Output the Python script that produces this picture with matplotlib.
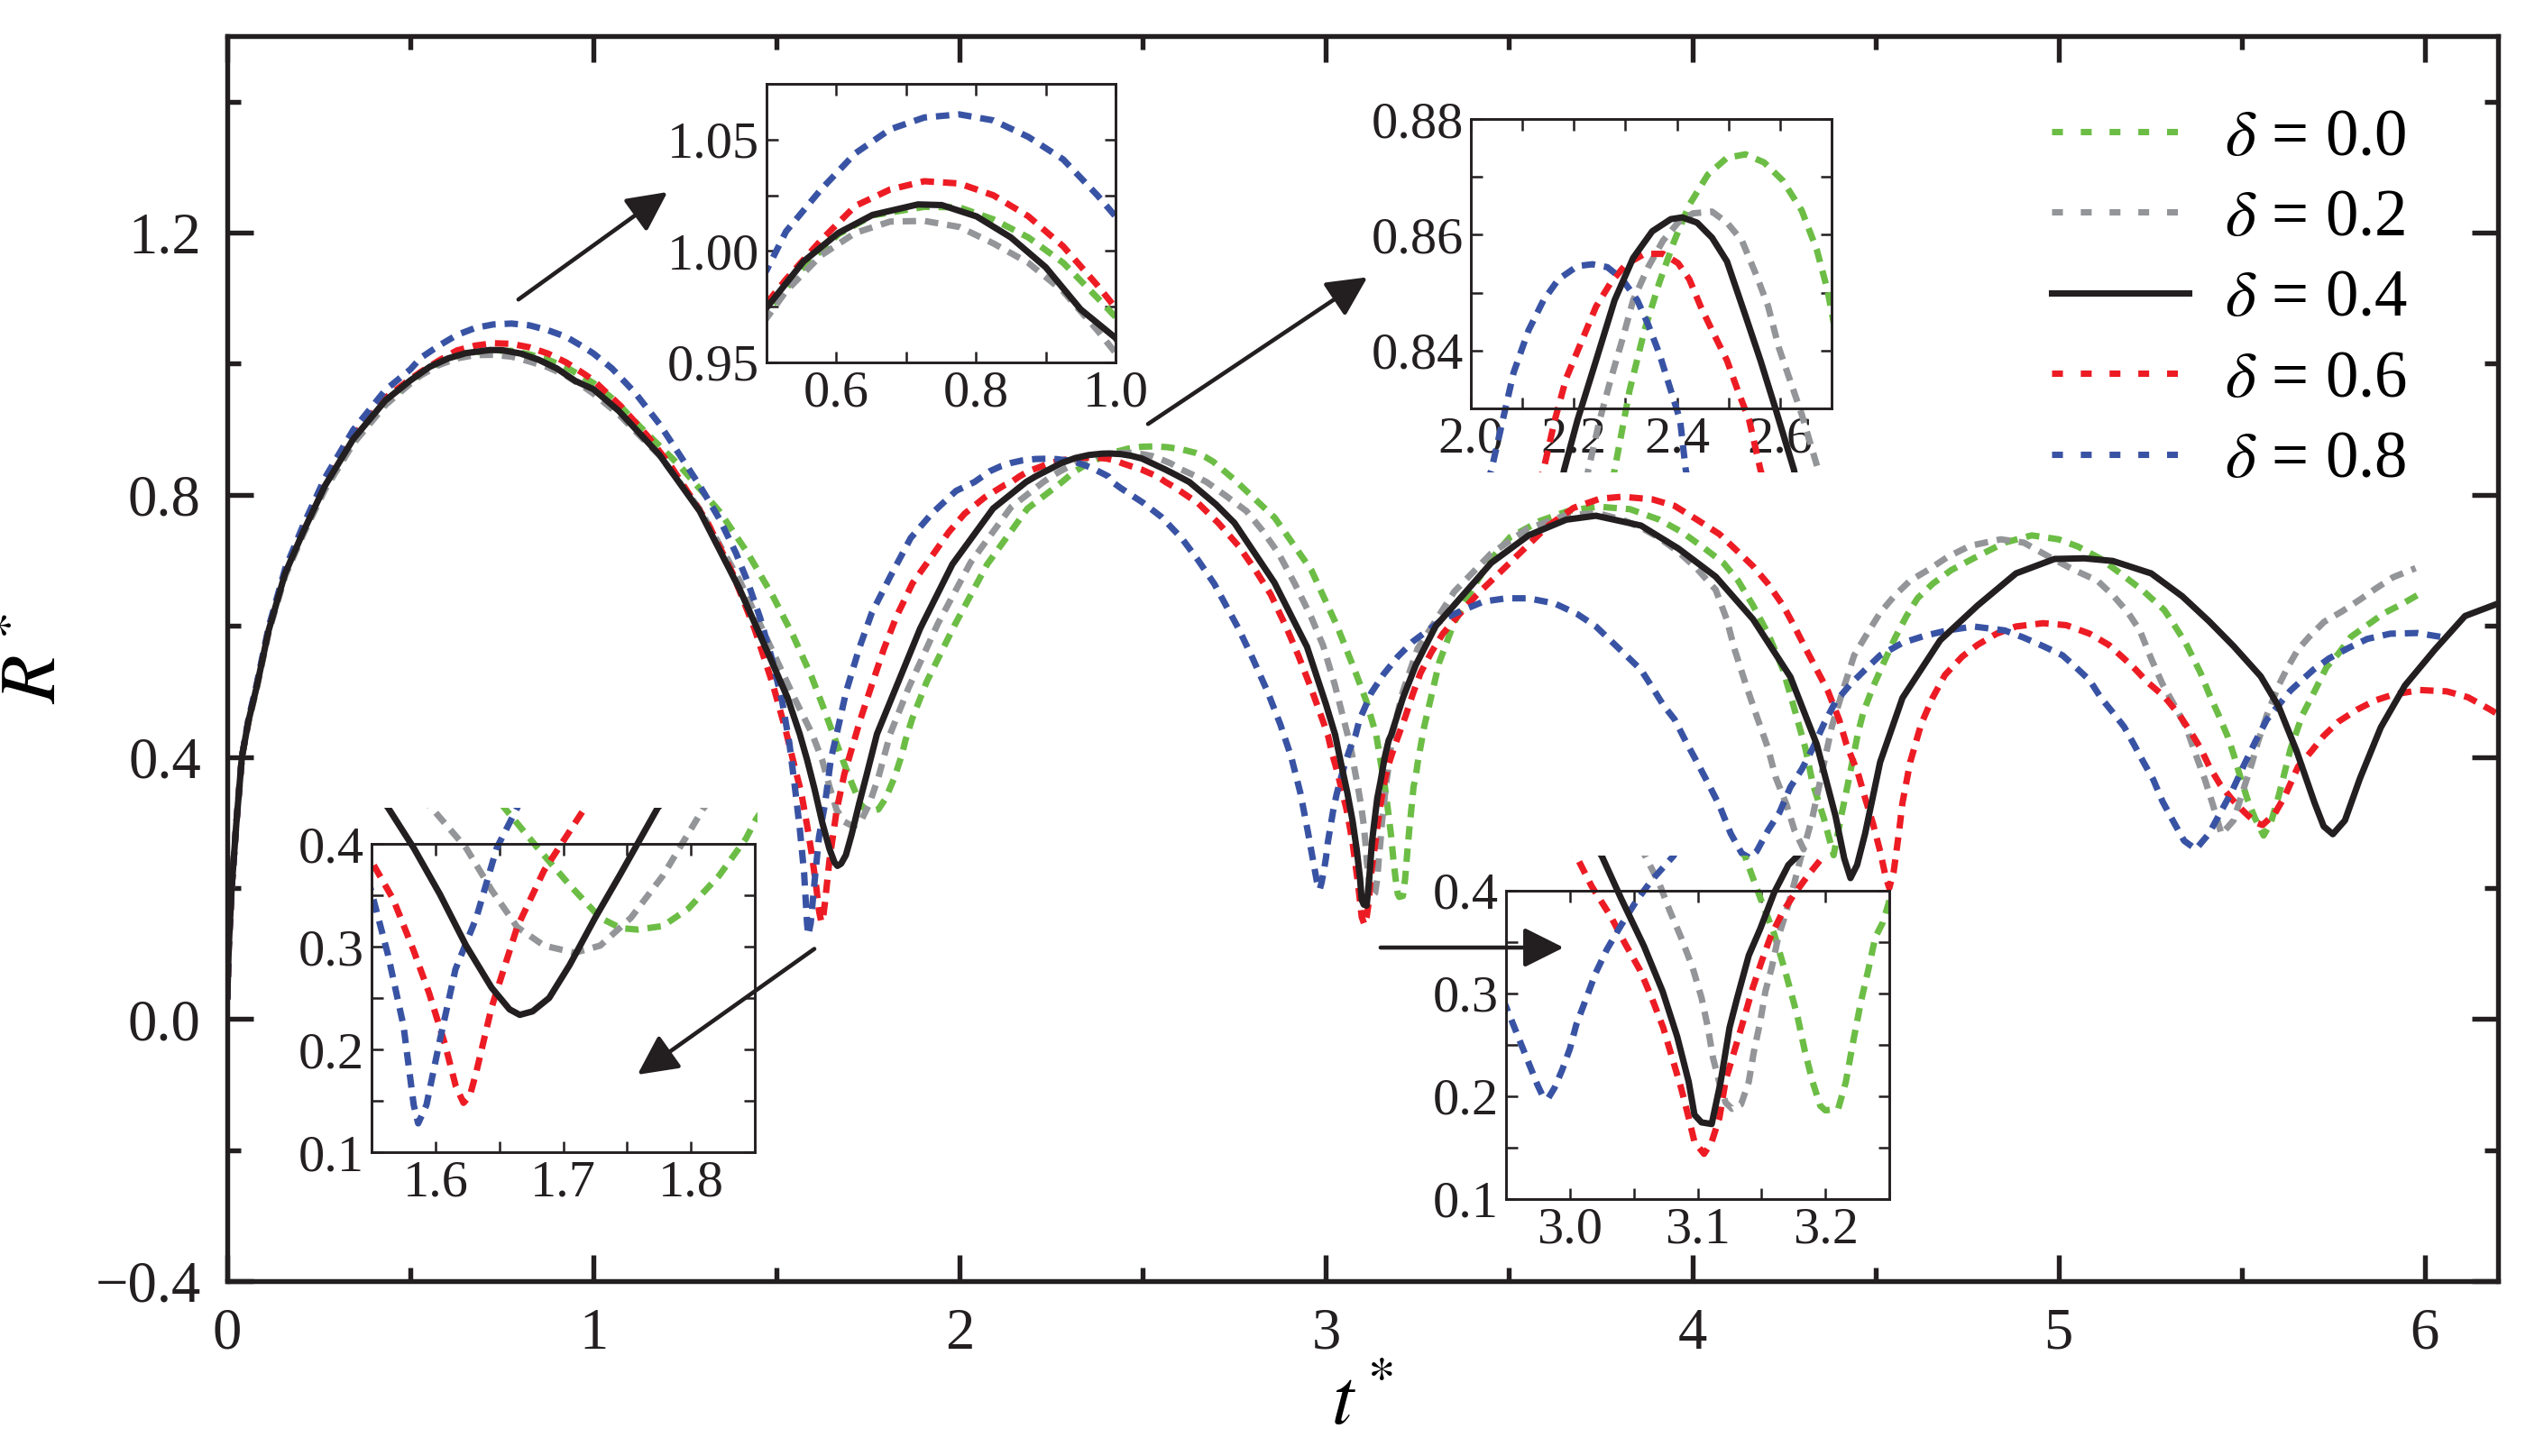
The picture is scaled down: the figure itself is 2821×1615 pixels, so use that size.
import numpy as np
import matplotlib
matplotlib.use('Agg')
import matplotlib.pyplot as plt
from matplotlib.lines import Line2D
from matplotlib.patches import Rectangle, FancyArrowPatch

plt.rcParams['font.family'] = 'serif'
plt.rcParams['font.serif'] = ['Liberation Serif', 'DejaVu Serif']
plt.rcParams['mathtext.fontset'] = 'stix'

# R*(t*), (t, R) pairs
delta_00 = [(0, 0.03), (0.004, 0.11), (0.012, 0.20), (0.025, 0.30), (0.04, 0.40), (0.058, 0.454), (0.08, 0.505),
            (0.113, 0.592), (0.158, 0.678), (0.207, 0.741), (0.267, 0.811), (0.344, 0.882), (0.432, 0.941),
            (0.5, 0.9725), (0.553, 0.9927), (0.603, 1.0075), (0.652, 1.016), (0.726, 1.0198), (0.776, 1.0196),
            (0.825, 1.0142), (0.875, 1.0061), (0.925, 0.9947), (0.974, 0.979), (1.0, 0.9704), (1.06, 0.943),
            (1.125, 0.905), (1.234, 0.845), (1.345, 0.774), (1.421, 0.711), (1.49, 0.645), (1.545, 0.585),
            (1.595, 0.523), (1.63, 0.472), (1.654, 0.435), (1.68, 0.396), (1.705, 0.360), (1.729, 0.328),
            (1.745, 0.318), (1.758, 0.3166), (1.778, 0.320), (1.798, 0.337), (1.822, 0.369), (1.843, 0.405),
            (1.851, 0.424), (1.87, 0.458), (1.91, 0.515), (1.985, 0.600), (2.075, 0.694), (2.185, 0.779),
            (2.25, 0.807), (2.279, 0.8194), (2.308, 0.8331), (2.337, 0.8435), (2.366, 0.8518), (2.395, 0.859),
            (2.424, 0.8652), (2.46, 0.8704), (2.497, 0.8733), (2.533, 0.8739), (2.569, 0.8725), (2.605, 0.8694),
            (2.642, 0.8642), (2.671, 0.8575), (2.692, 0.8505), (2.75, 0.823), (2.86, 0.765), (2.96, 0.685),
            (3.03, 0.600), (3.08, 0.53), (3.11, 0.485), (3.137, 0.4337), (3.149, 0.393), (3.16, 0.3576),
            (3.169, 0.3195), (3.178, 0.2785), (3.184, 0.2434), (3.19, 0.214), (3.196, 0.1907), (3.2, 0.1863),
            (3.21, 0.1878), (3.216, 0.214), (3.222, 0.255), (3.228, 0.2932), (3.234, 0.3254), (3.239, 0.3546),
            (3.245, 0.3693), (3.25, 0.39), (3.268, 0.446), (3.309, 0.544), (3.349, 0.604), (3.401, 0.658),
            (3.451, 0.702), (3.502, 0.735), (3.584, 0.760), (3.66, 0.775), (3.74, 0.782), (3.83, 0.778),
            (3.91, 0.762), (3.972, 0.743), (4.034, 0.718), (4.085, 0.696), (4.125, 0.669), (4.166, 0.631),
            (4.207, 0.588), (4.248, 0.533), (4.279, 0.473), (4.309, 0.413), (4.329, 0.359), (4.36, 0.305),
            (4.386, 0.25), (4.405, 0.305), (4.421, 0.348), (4.437, 0.392), (4.452, 0.435), (4.467, 0.468),
            (4.493, 0.506), (4.523, 0.544), (4.554, 0.582), (4.585, 0.615), (4.615, 0.642), (4.656, 0.664),
            (4.707, 0.685), (4.768, 0.703), (4.853, 0.727), (4.927, 0.738), (5.0, 0.732), (5.053, 0.721),
            (5.116, 0.702), (5.169, 0.680), (5.232, 0.653), (5.289, 0.624), (5.314, 0.603), (5.347, 0.574),
            (5.388, 0.528), (5.412, 0.495), (5.437, 0.464), (5.462, 0.431), (5.478, 0.404), (5.495, 0.372),
            (5.516, 0.335), (5.536, 0.307), (5.560, 0.280), (5.58, 0.30), (5.601, 0.340), (5.634, 0.413),
            (5.666, 0.464), (5.699, 0.500), (5.732, 0.537), (5.765, 0.558), (5.798, 0.583), (5.848, 0.603),
            (5.888, 0.619), (5.937, 0.633), (5.99, 0.650)]

delta_02 = [(0, 0.03), (0.004, 0.11), (0.012, 0.20), (0.025, 0.30), (0.04, 0.40), (0.058, 0.453), (0.08, 0.504),
            (0.113, 0.590), (0.158, 0.676), (0.207, 0.739), (0.267, 0.808), (0.344, 0.878), (0.432, 0.937),
            (0.5, 0.9698), (0.528, 0.982), (0.578, 0.998), (0.627, 1.0081), (0.677, 1.0132), (0.726, 1.0135),
            (0.776, 1.0108), (0.825, 1.0034), (0.875, 0.9947), (0.925, 0.9819), (0.974, 0.9644), (1.0, 0.9543),
            (1.07, 0.922), (1.18, 0.860), (1.29, 0.778), (1.40, 0.668), (1.49, 0.560), (1.55, 0.488),
            (1.597, 0.435), (1.624, 0.396), (1.644, 0.355), (1.664, 0.319), (1.685, 0.301), (1.709, 0.294),
            (1.729, 0.301), (1.753, 0.328), (1.778, 0.369), (1.81, 0.435), (1.86, 0.505), (1.94, 0.603),
            (2.03, 0.697), (2.14, 0.781), (2.228, 0.8194), (2.25, 0.828), (2.272, 0.8352), (2.294, 0.8419),
            (2.315, 0.8487), (2.344, 0.8544), (2.373, 0.859), (2.402, 0.8621), (2.431, 0.8637), (2.468, 0.864),
            (2.497, 0.8621), (2.526, 0.859), (2.555, 0.8528), (2.577, 0.8476), (2.598, 0.8404), (2.62, 0.8347),
            (2.642, 0.829), (2.656, 0.8248), (2.674, 0.8194), (2.73, 0.797), (2.783, 0.775), (2.827, 0.745),
            (2.871, 0.710), (2.915, 0.664), (2.959, 0.614), (2.992, 0.570), (3.024, 0.510), (3.046, 0.462),
            (3.059, 0.4337), (3.07, 0.407), (3.078, 0.381), (3.087, 0.3546), (3.096, 0.3254), (3.103, 0.296),
            (3.108, 0.267), (3.112, 0.2375), (3.118, 0.2083), (3.122, 0.1937), (3.127, 0.1878), (3.134, 0.1922),
            (3.14, 0.214), (3.144, 0.2434), (3.149, 0.2727), (3.153, 0.302), (3.158, 0.3254), (3.163, 0.3546),
            (3.169, 0.378), (3.175, 0.4044), (3.181, 0.4337), (3.21, 0.50), (3.25, 0.565), (3.35, 0.652),
            (3.45, 0.71), (3.55, 0.748), (3.65, 0.768), (3.74, 0.772), (3.809, 0.762), (3.86, 0.750),
            (3.91, 0.734), (3.962, 0.713), (4.013, 0.687), (4.064, 0.655), (4.094, 0.61), (4.115, 0.565),
            (4.146, 0.511), (4.176, 0.462), (4.207, 0.413), (4.227, 0.370), (4.258, 0.326), (4.279, 0.288),
            (4.304, 0.259), (4.329, 0.310), (4.35, 0.365), (4.381, 0.446), (4.411, 0.501), (4.442, 0.555),
            (4.483, 0.593), (4.513, 0.620), (4.554, 0.647), (4.595, 0.669), (4.646, 0.686), (4.697, 0.705),
            (4.758, 0.722), (4.842, 0.732), (4.905, 0.727), (4.969, 0.707), (5.043, 0.685), (5.106, 0.669),
            (5.148, 0.647), (5.19, 0.620), (5.222, 0.593), (5.253, 0.550), (5.284, 0.511), (5.316, 0.479),
            (5.348, 0.446), (5.375, 0.403), (5.40, 0.365), (5.422, 0.326), (5.445, 0.282), (5.478, 0.303),
            (5.507, 0.354), (5.528, 0.390), (5.544, 0.422), (5.569, 0.464), (5.601, 0.509), (5.626, 0.537),
            (5.654, 0.564), (5.684, 0.583), (5.725, 0.606), (5.774, 0.622), (5.823, 0.640), (5.864, 0.656),
            (5.913, 0.674), (5.975, 0.688)]

delta_04 = [(0, 0.03), (0.004, 0.11), (0.012, 0.20), (0.025, 0.30), (0.04, 0.40), (0.058, 0.455), (0.08, 0.506),
            (0.113, 0.593), (0.158, 0.680), (0.207, 0.743), (0.267, 0.814), (0.344, 0.885), (0.432, 0.944),
            (0.5, 0.9745), (0.553, 0.9953), (0.603, 1.0081), (0.652, 1.0162), (0.717, 1.0209), (0.751, 1.0206),
            (0.801, 1.0155), (0.85, 1.0061), (0.9, 0.9927), (0.95, 0.9738), (1.0, 0.961), (1.069, 0.928),
            (1.18, 0.861), (1.29, 0.775), (1.399, 0.656), (1.487, 0.545), (1.53, 0.49), (1.563, 0.435),
            (1.583, 0.396), (1.6035, 0.351), (1.624, 0.301), (1.644, 0.260), (1.658, 0.239), (1.666, 0.2336),
            (1.676, 0.237), (1.689, 0.250), (1.705, 0.282), (1.725, 0.328), (1.745, 0.371), (1.774, 0.435),
            (1.815, 0.491), (1.892, 0.596), (1.98, 0.694), (2.091, 0.779), (2.181, 0.8194), (2.207, 0.828),
            (2.243, 0.8383), (2.279, 0.8487), (2.315, 0.856), (2.352, 0.8606), (2.388, 0.8627), (2.41, 0.863),
            (2.439, 0.8621), (2.468, 0.8595), (2.497, 0.8554), (2.533, 0.846), (2.562, 0.8383), (2.591, 0.830),
            (2.627, 0.8194), (2.70, 0.785), (2.75, 0.757), (2.859, 0.666), (2.948, 0.568), (3.0, 0.48),
            (3.025, 0.4337), (3.04, 0.3927), (3.058, 0.346), (3.0726, 0.302), (3.084, 0.258), (3.093, 0.214),
            (3.0975, 0.182), (3.103, 0.1746), (3.111, 0.173), (3.118, 0.214), (3.125, 0.267), (3.131, 0.296),
            (3.14, 0.337), (3.149, 0.363), (3.16, 0.3985), (3.171, 0.425), (3.178, 0.4337), (3.21, 0.49),
            (3.245, 0.54), (3.30, 0.60), (3.349, 0.631), (3.451, 0.696), (3.553, 0.738), (3.656, 0.762),
            (3.737, 0.768), (3.86, 0.753), (3.962, 0.718), (4.064, 0.675), (4.166, 0.610), (4.268, 0.522),
            (4.34, 0.419), (4.391, 0.310), (4.415, 0.245), (4.432, 0.215), (4.45, 0.235), (4.472, 0.283),
            (4.513, 0.392), (4.574, 0.490), (4.677, 0.578), (4.779, 0.631), (4.884, 0.680), (4.989, 0.702),
            (5.07, 0.703), (5.148, 0.699), (5.253, 0.680), (5.338, 0.645), (5.411, 0.607), (5.478, 0.569),
            (5.552, 0.523), (5.601, 0.477), (5.65, 0.409), (5.699, 0.330), (5.724, 0.294), (5.749, 0.282),
            (5.782, 0.303), (5.823, 0.367), (5.88, 0.445), (5.946, 0.509), (6.028, 0.564), (6.11, 0.615),
            (6.2, 0.634)]

delta_06 = [(0, 0.03), (0.004, 0.11), (0.012, 0.20), (0.025, 0.30), (0.04, 0.40), (0.058, 0.456), (0.08, 0.508),
            (0.113, 0.595), (0.158, 0.683), (0.207, 0.747), (0.267, 0.818), (0.344, 0.89), (0.432, 0.948),
            (0.5, 0.9765), (0.528, 0.9873), (0.578, 1.0048), (0.627, 1.0202), (0.677, 1.0276), (0.726, 1.0313),
            (0.776, 1.0303), (0.825, 1.025), (0.875, 1.0156), (0.925, 1.0021), (0.974, 0.9846), (1.0, 0.9745),
            (1.075, 0.935), (1.147, 0.89), (1.21, 0.845), (1.311, 0.758), (1.38, 0.68), (1.44, 0.595),
            (1.49, 0.51), (1.525, 0.44), (1.55, 0.383), (1.567, 0.346), (1.583, 0.296), (1.595, 0.255),
            (1.6075, 0.205), (1.616, 0.164), (1.622, 0.148), (1.627, 0.155), (1.632, 0.178), (1.644, 0.241),
            (1.664, 0.319), (1.685, 0.374), (1.717, 0.435), (1.728, 0.456), (1.761, 0.512), (1.793, 0.565),
            (1.827, 0.614), (1.871, 0.665), (1.926, 0.708), (1.97, 0.743), (2.013, 0.771), (2.068, 0.796),
            (2.123, 0.815), (2.141, 0.8194), (2.163, 0.828), (2.185, 0.8352), (2.214, 0.8414), (2.243, 0.8476),
            (2.272, 0.8518), (2.301, 0.8549), (2.337, 0.8567), (2.373, 0.8567), (2.402, 0.8551), (2.424, 0.8523),
            (2.446, 0.8476), (2.468, 0.8435), (2.497, 0.8383), (2.518, 0.8331), (2.54, 0.828), (2.562, 0.8194),
            (2.585, 0.812), (2.651, 0.787), (2.706, 0.757), (2.761, 0.722), (2.805, 0.687), (2.849, 0.648),
            (2.893, 0.596), (2.925, 0.554), (2.959, 0.505), (2.985, 0.465), (3.005, 0.4337), (3.017, 0.4044),
            (3.032, 0.375), (3.043, 0.349), (3.055, 0.3224), (3.064, 0.296), (3.073, 0.267), (3.08, 0.2375),
            (3.087, 0.2083), (3.093, 0.179), (3.0975, 0.1556), (3.105, 0.144), (3.111, 0.1556), (3.117, 0.179),
            (3.122, 0.216), (3.1356, 0.2727), (3.143, 0.305), (3.15, 0.331), (3.157, 0.355), (3.166, 0.378),
            (3.175, 0.3956), (3.187, 0.416), (3.1985, 0.4337), (3.217, 0.462), (3.237, 0.496), (3.258, 0.528),
            (3.288, 0.560), (3.319, 0.588), (3.36, 0.615), (3.411, 0.647), (3.472, 0.680), (3.533, 0.713),
            (3.605, 0.752), (3.676, 0.780), (3.748, 0.794), (3.809, 0.797), (3.891, 0.793), (3.952, 0.783),
            (4.013, 0.762), (4.074, 0.740), (4.125, 0.713), (4.166, 0.691), (4.207, 0.664), (4.248, 0.631),
            (4.279, 0.599), (4.309, 0.566), (4.34, 0.533), (4.37, 0.501), (4.401, 0.457), (4.421, 0.419),
            (4.452, 0.376), (4.472, 0.337), (4.493, 0.299), (4.513, 0.256), (4.528, 0.217), (4.538, 0.20),
            (4.55, 0.225), (4.564, 0.283), (4.574, 0.33), (4.595, 0.392), (4.625, 0.45), (4.656, 0.49),
            (4.69, 0.525), (4.737, 0.553), (4.779, 0.571), (4.831, 0.588), (4.884, 0.599), (4.958, 0.604),
            (5.021, 0.601), (5.085, 0.588), (5.137, 0.571), (5.179, 0.550), (5.211, 0.533), (5.243, 0.514),
            (5.289, 0.492), (5.33, 0.464), (5.363, 0.436), (5.388, 0.413), (5.412, 0.385), (5.441, 0.358),
            (5.474, 0.335), (5.507, 0.316), (5.538, 0.300), (5.557, 0.296), (5.59, 0.313), (5.618, 0.340),
            (5.654, 0.385), (5.691, 0.409), (5.724, 0.432), (5.765, 0.454), (5.815, 0.472), (5.864, 0.486),
            (5.913, 0.495), (5.987, 0.502), (6.06, 0.500), (6.118, 0.491), (6.176, 0.473), (6.2, 0.465)]

delta_08 = [(0, 0.03), (0.004, 0.11), (0.012, 0.20), (0.025, 0.30), (0.04, 0.40), (0.058, 0.458), (0.08, 0.51),
            (0.113, 0.598), (0.158, 0.687), (0.207, 0.753), (0.267, 0.826), (0.344, 0.899), (0.432, 0.96),
            (0.5, 0.9913), (0.528, 1.0088), (0.578, 1.0276), (0.627, 1.0438), (0.677, 1.0546), (0.726, 1.0599),
            (0.776, 1.0613), (0.825, 1.0586), (0.875, 1.0512), (0.925, 1.0411), (0.974, 1.025), (1.0, 1.0155),
            (1.05, 0.993), (1.113, 0.956), (1.18, 0.908), (1.235, 0.861), (1.29, 0.814), (1.345, 0.762),
            (1.389, 0.711), (1.421, 0.667), (1.455, 0.612), (1.487, 0.55), (1.515, 0.485), (1.535, 0.42),
            (1.55, 0.353), (1.563, 0.2915), (1.575, 0.223), (1.583, 0.146), (1.5865, 0.128), (1.593, 0.146),
            (1.6035, 0.209), (1.6157, 0.278), (1.632, 0.328), (1.648, 0.396), (1.664, 0.435), (1.69, 0.50),
            (1.725, 0.565), (1.76, 0.62), (1.81, 0.675), (1.866, 0.734), (1.923, 0.771), (1.99, 0.806),
            (2.04, 0.8194), (2.062, 0.828), (2.083, 0.8362), (2.112, 0.8435), (2.141, 0.8487), (2.17, 0.8523),
            (2.207, 0.8546), (2.236, 0.8549), (2.265, 0.8544), (2.294, 0.8523), (2.323, 0.8487), (2.344, 0.8445),
            (2.366, 0.8394), (2.388, 0.8331), (2.406, 0.828), (2.417, 0.8194), (2.44, 0.810), (2.50, 0.788),
            (2.551, 0.766), (2.607, 0.733), (2.651, 0.70), (2.695, 0.664), (2.761, 0.596), (2.80, 0.55),
            (2.84, 0.50), (2.875, 0.45), (2.905, 0.40), (2.93, 0.345), (2.95, 0.2873), (2.9585, 0.261),
            (2.967, 0.2346), (2.9746, 0.2112), (2.979, 0.1995), (2.983, 0.198), (2.988, 0.2083), (2.994, 0.2258),
            (3.0, 0.2463), (3.005, 0.2697), (3.013, 0.296), (3.02, 0.3195), (3.029, 0.343), (3.04, 0.3663),
            (3.052, 0.39), (3.064, 0.4102), (3.081, 0.4337), (3.091, 0.456), (3.124, 0.498), (3.157, 0.526),
            (3.196, 0.553), (3.237, 0.576), (3.278, 0.593), (3.319, 0.610), (3.37, 0.623), (3.43, 0.637),
            (3.492, 0.642), (3.553, 0.642), (3.625, 0.634), (3.686, 0.618), (3.737, 0.599), (3.778, 0.577),
            (3.819, 0.555), (3.86, 0.533), (3.891, 0.506), (3.921, 0.479), (3.952, 0.457), (3.982, 0.424),
            (4.013, 0.392), (4.044, 0.359), (4.074, 0.326), (4.105, 0.283), (4.135, 0.253), (4.156, 0.246),
            (4.176, 0.256), (4.207, 0.288), (4.238, 0.315), (4.268, 0.354), (4.299, 0.381), (4.329, 0.413),
            (4.36, 0.451), (4.391, 0.484), (4.432, 0.511), (4.472, 0.533), (4.513, 0.555), (4.574, 0.574),
            (4.636, 0.585), (4.697, 0.593), (4.768, 0.599), (4.853, 0.593), (4.905, 0.582), (4.958, 0.569),
            (5.011, 0.555), (5.043, 0.539), (5.085, 0.517), (5.116, 0.490), (5.148, 0.468), (5.179, 0.446),
            (5.206, 0.419), (5.232, 0.392), (5.259, 0.365), (5.284, 0.332), (5.316, 0.299), (5.343, 0.272),
            (5.375, 0.259), (5.411, 0.283), (5.442, 0.315), (5.474, 0.348), (5.506, 0.387), (5.538, 0.424),
            (5.569, 0.457), (5.601, 0.479), (5.633, 0.501), (5.664, 0.517), (5.696, 0.533), (5.738, 0.550),
            (5.791, 0.566), (5.843, 0.580), (5.906, 0.588), (5.98, 0.589), (6.045, 0.583)]

labels = [r'$\delta$ = 0.0', r'$\delta$ = 0.2', r'$\delta$ = 0.4', r'$\delta$ = 0.6', r'$\delta$ = 0.8']
colors = ['#6cbd45', '#939598', '#231f20', '#ed1c24', '#3953a4']
series = [delta_00, delta_02, delta_04, delta_06, delta_08]

W, H = 2821, 1615
fig = plt.figure(figsize=(W / 300, H / 300), dpi=300)


def px_rect(left, top, right, bottom):
    return [left / W, 1 - bottom / H, (right - left) / W, (bottom - top) / H]


LW = 1.7
DASH = (2.1, 1.4)


def draw_curves(axis, clip=None):
    for data, c in zip(series, colors):
        d = np.array(data)
        if c == '#231f20':
            ln, = axis.plot(d[:, 0], d[:, 1], color=c, lw=LW, solid_capstyle='butt', zorder=3)
        else:
            ln, = axis.plot(d[:, 0], d[:, 1], color=c, lw=LW, dashes=DASH, dash_capstyle='butt')
        if clip is not None:
            x0, x1, y0, y1 = clip
            ln.set_clip_path(Rectangle((x0, y0), x1 - x0, y1 - y0, transform=axis.transData))


ax = fig.add_axes(px_rect(252, 40, 2770, 1421))
draw_curves(ax)
ax.set_xlim(0, 6.2)
ax.set_ylim(-0.4, 1.5)
ax.set_xticks([0, 1, 2, 3, 4, 5, 6], ['0', '1', '2', '3', '4', '5', '6'])
ax.set_xticks(np.arange(0.5, 6.2, 1.0), minor=True)
ax.set_yticks([-0.4, 0.0, 0.4, 0.8, 1.2], ['\u22120.4', '0.0', '0.4', '0.8', '1.2'])
ax.set_yticks([-0.2, 0.2, 0.6, 1.0, 1.4], minor=True)
ax.tick_params(which='both', direction='in', top=True, right=True, width=1.3, labelsize=15.5, pad=7,
               colors='#231f20')
ax.tick_params(which='major', length=7)
ax.tick_params(which='minor', length=3.5)
for s in ax.spines.values():
    s.set_linewidth(1.3)
    s.set_color('#231f20')
ax.set_xlabel(r'$t^*$', fontsize=21, labelpad=2)
ax.set_ylabel(r'$R^*$', fontsize=21, labelpad=6)

handles = []
for c in colors:
    if c == '#231f20':
        handles.append(Line2D([], [], color=c, lw=LW))
    else:
        handles.append(Line2D([], [], color=c, lw=LW, dashes=(1.7, 2.8)))
ax.legend(handles, labels, loc='upper left', bbox_to_anchor=(0.8036, 0.942), frameon=False, fontsize=17.5,
          handlelength=2.08, handletextpad=0.55, labelspacing=0.3, borderpad=0, borderaxespad=0)

insets = [
    (px_rect(850, 93, 1237, 402), (0.5, 1.0), (0.95, 1.075), [0.6, 0.8, 1.0], [0.7, 0.9],
     [0.95, 1.00, 1.05], [0.975, 1.025], '%.1f', '%.2f', (0.5, 1.0, 0.95, 1.075)),
    (px_rect(1631, 132, 2031, 453), (2.0, 2.7), (0.83, 0.88), [2.0, 2.2, 2.4, 2.6], [2.1, 2.3, 2.5],
     [0.84, 0.86, 0.88], [0.85, 0.87], '%.1f', '%.2f', (2.0, 2.7, 0.819, 0.88)),
    (px_rect(412, 936, 837, 1278), (1.55, 1.85), (0.1, 0.4), [1.6, 1.7, 1.8], [1.65, 1.75],
     [0.1, 0.2, 0.3, 0.4], [0.15, 0.25, 0.35], '%.1f', '%.1f', (1.55, 1.852, 0.1, 0.435)),
    (px_rect(1670, 988, 2095, 1330), (2.95, 3.25), (0.1, 0.4), [3.0, 3.1, 3.2], [3.05, 3.15],
     [0.1, 0.2, 0.3, 0.4], [0.15, 0.25, 0.35], '%.1f', '%.1f', (2.95, 3.25, 0.1, 0.434)),
]
for rect, xl, yl, xt, xm, yt, ym, fx, fy, clip in insets:
    axi = fig.add_axes(rect)
    draw_curves(axi, clip)
    axi.set_xlim(*xl)
    axi.set_ylim(*yl)
    axi.set_xticks(xt, [fx % v for v in xt])
    axi.set_xticks(xm, minor=True)
    axi.set_yticks(yt, [fy % v for v in yt])
    axi.set_yticks(ym, minor=True)
    axi.tick_params(which='both', direction='in', top=True, right=True, length=3, width=0.6,
                    labelsize=14, pad=2, colors='#231f20')
    for s in axi.spines.values():
        s.set_linewidth(0.7)
        s.set_color('#231f20')

# arrows pointing at the insets, drawn above everything
arrows = [((0.795, 1.098), (1.202, 1.262)), ((2.514, 0.908), (3.113, 1.132)),
          ((1.603, 0.107), (1.12, -0.085)), ((3.149, 0.109), (3.649, 0.109))]
for tail, tip in arrows:
    fig.add_artist(FancyArrowPatch(tail, tip, transform=ax.transData,
                                   arrowstyle='-|>,head_length=0.6,head_width=0.3', mutation_scale=15,
                                   lw=1.1, color='#231f20', shrinkA=0, shrinkB=0, zorder=10))

fig.savefig('out.png', dpi=300)
